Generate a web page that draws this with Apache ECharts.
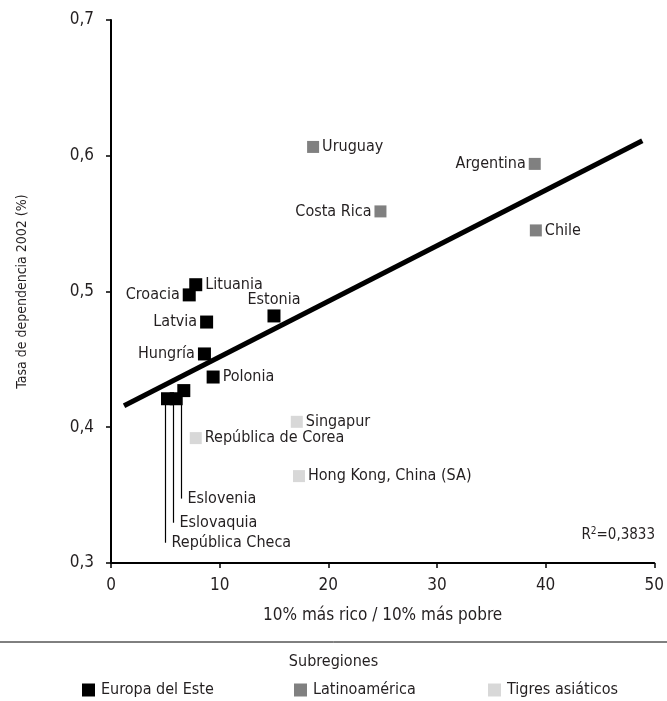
<!DOCTYPE html>
<html>
<head>
<meta charset="utf-8">
<script src="https://cdn.jsdelivr.net/npm/echarts@6/dist/echarts.min.js"></script>
<style>
html,body{margin:0;padding:0;background:#fff;}
#c{width:667px;height:701px;}
</style>
</head>
<body>
<div id="c"></div>
<script>
// ---- data ----
const xTicks = [0, 10, 20, 30, 40, 50];
const yTicks = [0.3, 0.4, 0.5, 0.6, 0.7];

const europeNames = ['Lituania', 'Croacia', 'Latvia', 'Estonia', 'Hungría', 'Polonia', 'Eslovenia', 'Eslovaquia', 'República Checa'];
const europeX = [7.8, 7.2, 8.8, 15.0, 8.6, 9.4, 6.7, 6.0, 5.2];
const europeY = [0.505, 0.4975, 0.4775, 0.482, 0.454, 0.437, 0.427, 0.421, 0.421];

const latinNames = ['Uruguay', 'Argentina', 'Costa Rica', 'Chile'];
const latinX = [18.6, 39.0, 24.8, 39.1];
const latinY = [0.6065, 0.594, 0.559, 0.545];

const asiaNames = ['Singapur', 'República de Corea', 'Hong Kong, China (SA)'];
const asiaX = [17.1, 7.8, 17.3];
const asiaY = [0.404, 0.392, 0.364];

const trendIntercept = 0.411;
const trendSlope = 0.00409;
const trendRange = [1.2, 48.9];
const r2Text = '0,3833';

const legendNames = ['Europa del Este', 'Latinoamérica', 'Tigres asiáticos'];

// ---- styles ----
const FONT = '"Liberation Sans Narrow", "DejaVu Sans Condensed", "Roboto Condensed", sans-serif';
const TXT = '#231f20';
const colors = {'Europa del Este': '#000000', 'Latinoamérica': '#808080', 'Tigres asiáticos': '#d8d8d8'};
const labelPos = {
  'Lituania': 'right', 'Croacia': 'left', 'Latvia': 'left', 'Estonia': 'top',
  'Hungría': 'left', 'Polonia': 'right',
  'Uruguay': 'right', 'Argentina': 'left', 'Costa Rica': 'left', 'Chile': 'right',
  'Singapur': 'right', 'República de Corea': 'right', 'Hong Kong, China (SA)': 'right'
};
// leader-line labels (pixel length of the drop line)
const leaderLen = {'Eslovenia': 108, 'Eslovaquia': 124, 'República Checa': 144};

function pts(names, xs, ys) {
  return names.map((n, i) => ({name: n, value: [xs[i], ys[i]]}));
}
function scatter(name, names, xs, ys, size) {
  return {
    name: name, type: 'scatter', symbol: 'rect', symbolSize: size, z: 3,
    itemStyle: {color: colors[name], opacity: 1},
    data: pts(names, xs, ys).map(d => ({
      name: d.name, value: d.value,
      label: {
        show: !(d.name in leaderLen),
        position: labelPos[d.name] || 'right',
        distance: labelPos[d.name] === 'top' ? 2 : 3
      }
    })),
    label: {formatter: '{b}', color: TXT, fontFamily: FONT, fontSize: 16},
    emphasis: {disabled: true}
  };
}

const leaderData = europeNames.map((n, i) => ({name: n, value: [europeX[i], europeY[i]]})).filter(d => d.name in leaderLen);

const chart = echarts.init(document.getElementById('c'), null, {renderer: 'canvas'});
chart.setOption({
  animation: false,
  backgroundColor: '#fff',
  textStyle: {fontFamily: FONT, color: TXT},
  grid: {left: 111, right: 12, top: 20, bottom: 138},
  xAxis: {
    type: 'value', min: xTicks[0], max: xTicks[xTicks.length - 1], interval: 10,
    name: '10% más rico / 10% más pobre', nameLocation: 'middle', nameGap: 44,
    nameTextStyle: {fontFamily: FONT, fontSize: 17, color: TXT},
    axisLine: {lineStyle: {color: '#000', width: 2}},
    axisTick: {show: true, length: 5, lineStyle: {color: '#000', width: 1.5}},
    axisLabel: {fontFamily: FONT, fontSize: 17, color: TXT, margin: 14},
    splitLine: {show: false}
  },
  yAxis: {
    type: 'value', min: yTicks[0], max: yTicks[yTicks.length - 1], interval: 0.1,
    name: 'Tasa de dependencia 2002 (%)', nameLocation: 'middle', nameGap: 82, nameRotate: 90,
    nameTextStyle: {fontFamily: FONT, fontSize: 14, color: TXT},
    axisLine: {lineStyle: {color: '#000', width: 2}},
    axisTick: {show: true, length: 5, lineStyle: {color: '#000', width: 1.5}},
    axisLabel: {fontFamily: FONT, fontSize: 17, color: TXT, margin: 17,
      formatter: v => v.toFixed(1).replace('.', ',')},
    splitLine: {show: false}
  },
  series: [
    scatter('Europa del Este', europeNames, europeX, europeY, 13),
    scatter('Latinoamérica', latinNames, latinX, latinY, 12),
    scatter('Tigres asiáticos', asiaNames, asiaX, asiaY, 12),
    {
      type: 'custom', z: 2, silent: true,
      data: leaderData.map(d => ({name: d.name, value: d.value})),
      renderItem: function (params, api) {
        const p = api.coord([api.value(0), api.value(1)]);
        const name = leaderData[params.dataIndex].name;
        const len = leaderLen[name];
        const x = Math.round(p[0]) - 2.5;
        return {
          type: 'group',
          children: [
            {type: 'line', shape: {x1: x, y1: p[1], x2: x, y2: p[1] + len},
             style: {stroke: '#000', lineWidth: 1.2}},
            {type: 'text', x: x + 6, y: p[1] + len,
             style: {text: name, font: '16px ' + FONT, fill: TXT, textVerticalAlign: 'middle', textAlign: 'left'}}
          ]
        };
      }
    },
    {
      type: 'line', z: 5, symbol: 'none', silent: true,
      lineStyle: {color: '#000', width: 5},
      data: trendRange.map(x => [x, trendIntercept + trendSlope * x])
    }
  ],
  graphic: [
    {type: 'text', right: 12, top: 526,
     style: {text: '{a|R}{s|2}{a|=' + r2Text + '}',
       rich: {a: {fontFamily: FONT, fontSize: 15, fill: TXT, color: TXT},
              s: {fontFamily: FONT, fontSize: 10, fill: TXT, color: TXT, verticalAlign: 'top', padding: [0, 0, 8, 0]}}}},
    {type: 'line', shape: {x1: 0, y1: 642, x2: 667, y2: 642}, style: {stroke: '#000', lineWidth: 1}},
    {type: 'text', x: 333.5, y: 662,
     style: {text: 'Subregiones', font: '16px ' + FONT, fill: TXT, textAlign: 'center', textVerticalAlign: 'middle'}}
  ].concat(legendNames.map((n, i) => {
    const xs = [82, 294, 488];
    return {
      type: 'group', x: xs[i], y: 690,
      children: [
        {type: 'rect', shape: {x: 0, y: -6.5, width: 13, height: 13}, style: {fill: colors[n]}},
        {type: 'text', x: 19, y: 0,
         style: {text: n, font: '16px ' + FONT, fill: TXT, textVerticalAlign: 'middle'}}
      ]
    };
  }))
});
</script>
</body>
</html>
